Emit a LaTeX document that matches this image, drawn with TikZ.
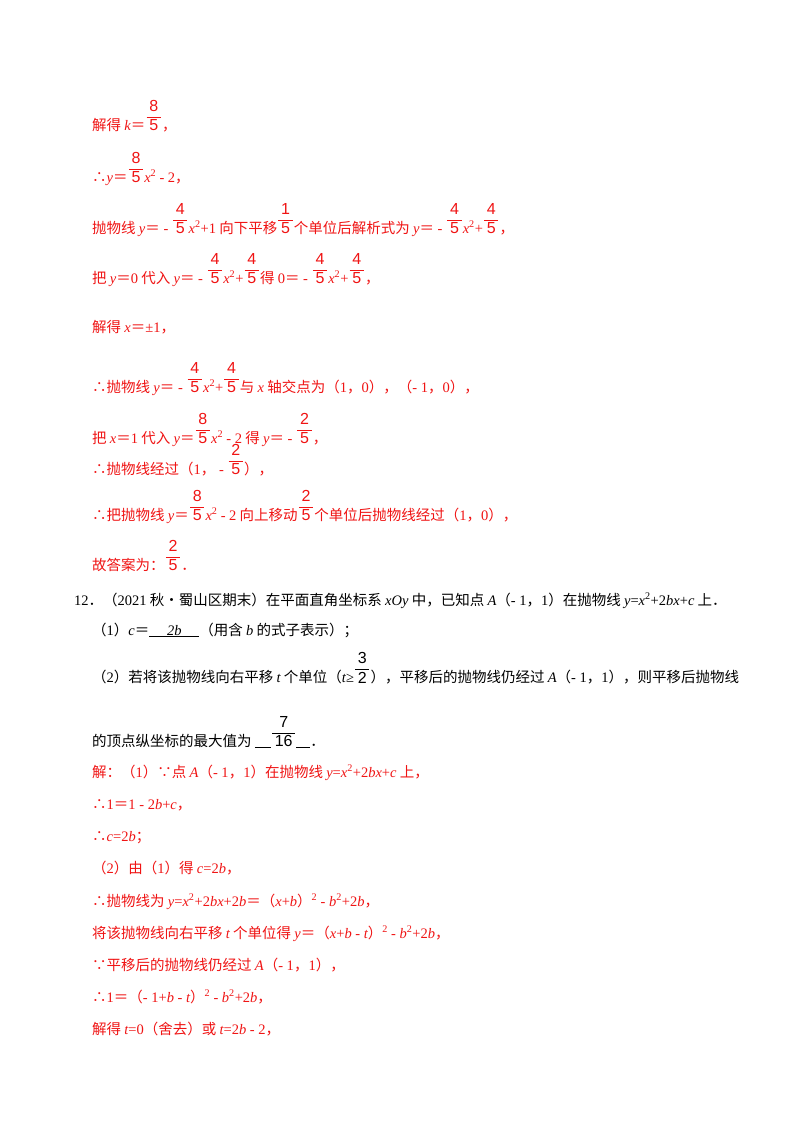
\documentclass[tikz,border=0pt]{standalone}
\usepackage{fontspec}
\setmainfont{Liberation Serif}
\newfontfamily\cjk{Noto Sans CJK SC}
\newfontfamily\lib{Liberation Serif}
\newfontfamily\lsans{Liberation Sans}
\newcommand\mi[1]{{\lib\itshape #1}}
\newcommand\mr[1]{{\lib #1}}
\newcommand\eq{{\cjk ＝}}
\newsavebox\frbox
\newcommand\fr[2]{\sbox\frbox{$\displaystyle\frac{\hbox{\lsans\fontsize{16}{17}\selectfont\,#1\,}}{\hbox{\lsans\fontsize{16}{17}\selectfont\,#2\,}}$}\raisebox{\dimexpr\dp\frbox-1pt\relax}{\usebox\frbox}}
\newcommand\sq{\textsuperscript{\lib 2}}
\definecolor{ans}{RGB}{240,20,20}
\begin{document}
\begin{tikzpicture}[x=1pt,y=-1pt,
  ln/.style={anchor=base west,inner sep=0pt,font=\cjk\fontsize{14.5}{15}\selectfont},
  rd/.style={ln,text=ans},
  bk/.style={ln,text=black}]
\useasboundingbox (0,0) rectangle (800,1132);
\fill[white] (0,0) rectangle (800,1132);
\node[rd] (l1) at (92,130) {解得 \mi{k}\eq\fr{8}{5}，};
\node[rd] (l2) at (92,182) {∴\mi{y}\eq\fr{8}{5}\mi{x}\sq\ \mr{- 2}，};
\node[rd] (l3) at (92,233) {抛物线 \mi{y}\eq\mr{ - }\fr{4}{5}\mi{x}\sq\mr{+1} 向下平移\fr{1}{5}个单位后解析式为 \mi{y}\eq\mr{ - }\fr{4}{5}\mi{x}\sq\mr{+}\fr{4}{5}，};
\node[rd] (l4) at (92,283) {把 \mi{y}\eq\mr{0} 代入 \mi{y}\eq\mr{ - }\fr{4}{5}\mi{x}\sq\mr{+}\fr{4}{5}得 \mr{0}\eq\mr{ - }\fr{4}{5}\mi{x}\sq\mr{+}\fr{4}{5}，};
\node[rd] (l5) at (92,332) {解得 \mi{x}\eq\mr{±1}，};
\node[rd] (l6) at (92,392) {∴抛物线 \mi{y}\eq\mr{ - }\fr{4}{5}\mi{x}\sq\mr{+}\fr{4}{5}与 \mi{x} 轴交点为（\mr{1}，\mr{0}），（\mr{- 1}，\mr{0}），};
\node[rd] (l7) at (92,443) {把 \mi{x}\eq\mr{1} 代入 \mi{y}\eq\fr{8}{5}\mi{x}\sq\ \mr{- 2} 得 \mi{y}\eq\mr{ - }\fr{2}{5}，};
\node[rd] (l8) at (92,474) {∴抛物线经过（\mr{1}，\mr{ - }\fr{2}{5}），};
\node[rd] (l9) at (92,520) {∴把抛物线 \mi{y}\eq\fr{8}{5}\mi{x}\sq\ \mr{- 2} 向上移动\fr{2}{5}个单位后抛物线经过（\mr{1}，\mr{0}），};
\node[rd] (l10) at (92,570) {故答案为：\fr{2}{5}．};
\node[bk] (q) at (74,605) {\mr{12}．（\mr{2021} 秋•蜀山区期末）在平面直角坐标系 \mi{xOy} 中，已知点 \mi{A}（\mr{- 1}，\mr{1}）在抛物线 \mi{y}\mr{=}\mi{x}\sq\mr{+2}\mi{bx}\mr{+}\mi{c} 上．};
\node[bk] (q1) at (92,635) {（\mr{1}）\mi{c}\eq\underline{\makebox[50pt]{\mi{2b}}}（用含 \mi{b} 的式子表示）；};
\node[bk] (q2) at (92,682) {（\mr{2}）若将该抛物线向右平移 \mi{t} 个单位（\mi{t}\mr{≥}\fr{3}{2}），平移后的抛物线仍经过 \mi{A}（\mr{- 1}，\mr{1}），则平移后抛物线};
\node[bk] (q3) at (92,746) {的顶点纵坐标的最大值为 \underline{\hspace{16pt}}\fr{7}{16}\underline{\hspace{14pt}}．};
\node[rd] (s1) at (92,777) {解：（\mr{1}）∵点 \mi{A}（\mr{- 1}，\mr{1}）在抛物线 \mi{y}\mr{=}\mi{x}\sq\mr{+2}\mi{bx}\mr{+}\mi{c} 上，};
\node[rd] (s2) at (92,809) {∴\mr{1}\eq\mr{1 - 2}\mi{b}\mr{+}\mi{c}，};
\node[rd] (s3) at (92,841) {∴\mi{c}\mr{=2}\mi{b}；};
\node[rd] (s4) at (92,873) {（\mr{2}）由（\mr{1}）得 \mi{c}\mr{=2}\mi{b}，};
\node[rd] (s5) at (92,906) {∴抛物线为 \mi{y}\mr{=}\mi{x}\sq\mr{+2}\mi{bx}\mr{+2}\mi{b}\eq（\mi{x}\mr{+}\mi{b}）\sq\ \mr{- }\mi{b}\sq\mr{+2}\mi{b}，};
\node[rd] (s6) at (92,938) {将该抛物线向右平移 \mi{t} 个单位得 \mi{y}\eq（\mi{x}\mr{+}\mi{b}\mr{ - }\mi{t}）\sq\ \mr{- }\mi{b}\sq\mr{+2}\mi{b}，};
\node[rd] (s7) at (92,970) {∵平移后的抛物线仍经过 \mi{A}（\mr{- 1}，\mr{1}），};
\node[rd] (s8) at (92,1002) {∴\mr{1}\eq（\mr{- 1+}\mi{b}\mr{ - }\mi{t}）\sq\ \mr{- }\mi{b}\sq\mr{+2}\mi{b}，};
\node[rd] (s9) at (92,1034) {解得 \mi{t}\mr{=0}（舍去）或 \mi{t}\mr{=2}\mi{b}\mr{ - 2}，};
\end{tikzpicture}
\end{document}
